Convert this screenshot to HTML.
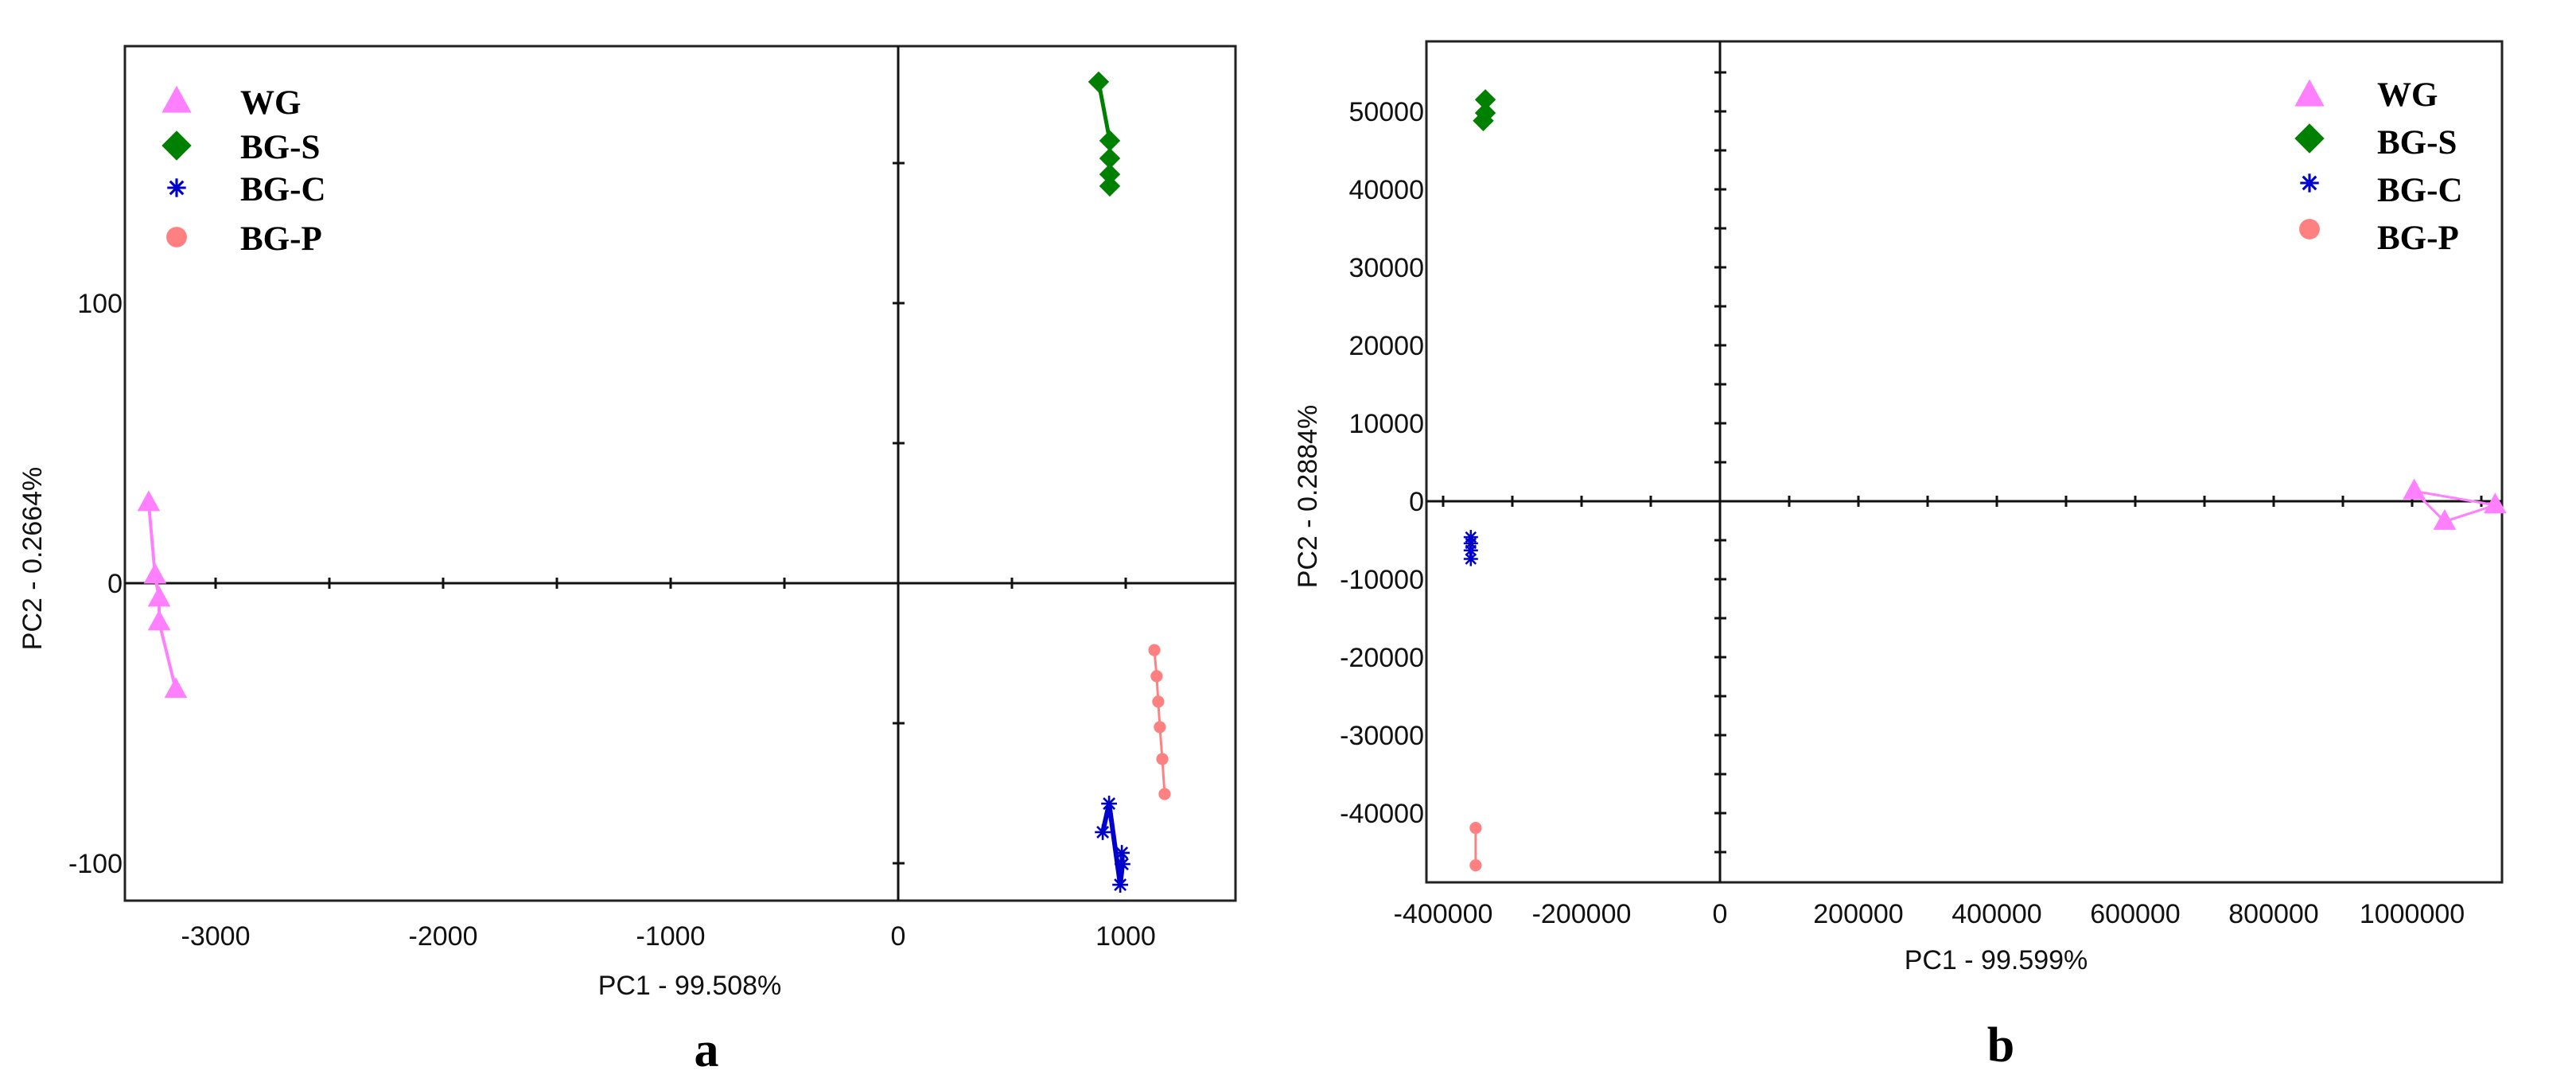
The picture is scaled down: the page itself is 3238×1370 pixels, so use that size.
<!DOCTYPE html>
<html><head><meta charset="utf-8">
<style>
html,body{margin:0;padding:0;background:#fff;}
svg{display:block;}
.tick{font-family:"Liberation Sans",Arial,sans-serif;font-size:34px;fill:#111;}
.atitle{font-family:"Liberation Sans",Arial,sans-serif;font-size:34px;fill:#111;}
.leg{font-family:"Liberation Serif","Times New Roman",serif;font-size:43px;font-weight:bold;fill:#000;}
.plabel{font-family:"Liberation Serif","Times New Roman",serif;font-size:62px;font-weight:bold;fill:#000;}
</style></head>
<body>
<svg id="chart" width="3238" height="1370" viewBox="0 0 3238 1370" xmlns="http://www.w3.org/2000/svg">
<text class="plabel" x="888" y="1340" text-anchor="middle">a</text>
<text class="plabel" x="2515" y="1334" text-anchor="middle">b</text>
</svg>
<script>
// ---- Panel a data ----
const seriesNames = ["WG","BG-S","BG-C","BG-P"];
const aWG_x = [-3294,-3266,-3248,-3248,-3175];
const aWG_y = [28.7,2.8,-5.4,-13.9,-38];
const aBGS_x = [881,930,930,930,930];
const aBGS_y = [179,158,151.7,146,141.8];
const aBGC_x = [899,927,976,986,983];
const aBGC_y = [-88.9,-78.7,-107.7,-100.3,-96.3];
const aBGP_x = [1126,1136,1143,1150,1161,1171];
const aBGP_y = [-23.9,-33.2,-42.3,-51.4,-62.8,-75.3];
const aXTickLabels = [-3000,-2000,-1000,0,1000];
const aYTickLabels = [100,0,-100];
// ---- Panel b data ----
const bWG_x = [1003000,1120000,1047000,1003000];
const bWG_y = [1300,-500,-2600,1300];
const bBGS_x = [-339000,-339000,-342000];
const bBGS_y = [51500,49800,48800];
const bBGC_x = [-360000,-360000,-360000,-360000];
const bBGC_y = [-4600,-5400,-6300,-7400];
const bBGP_x = [-353000,-353000];
const bBGP_y = [-41900,-46700];
const bXTickLabels = [-400000,-200000,0,200000,400000,600000,800000,1000000];
const bYTickLabels = [50000,40000,30000,20000,10000,0,-10000,-20000,-30000,-40000];

const NS="http://www.w3.org/2000/svg";
const svg=document.getElementById('chart');
function mk(tag,attrs,parent){const e=document.createElementNS(NS,tag);for(const k in attrs)e.setAttribute(k,attrs[k]);(parent||svg).appendChild(e);return e;}
const colors={"WG":"#ff80ff","BG-S":"#008000","BG-C":"#0000cc","BG-P":"#ff8080"};

function marker(g,name,cx,cy,s){
  let e;
  if(name==="WG"){e=mk('polygon',{points:`${cx},${cy-s*0.6} ${cx-s*0.55},${cy+s*0.4} ${cx+s*0.55},${cy+s*0.4}`,fill:colors[name]},g);}
  else if(name==="BG-S"){e=mk('polygon',{points:`${cx},${cy-s*0.55} ${cx+s*0.55},${cy} ${cx},${cy+s*0.55} ${cx-s*0.55},${cy}`,fill:colors[name]},g);}
  else if(name==="BG-C"){
    e=mk('g',{stroke:colors[name],'stroke-width':Math.max(2.5,s*0.12)},g);
    const r=s*0.45;
    for(let k=0;k<4;k++){const a=k*Math.PI/4;mk('line',{x1:cx-r*Math.cos(a),y1:cy-r*Math.sin(a),x2:cx+r*Math.cos(a),y2:cy+r*Math.sin(a)},e);}
  } else {e=mk('circle',{cx:cx,cy:cy,r:s*0.38,fill:colors[name]},g);}
  return e;
}

function panel(cfg){
  const g=mk('g',{});
  
  
  const X=v=>cfg.x0+v*cfg.kx, Y=v=>cfg.y0-v*cfg.ky;
  const fr=mk('rect',{x:cfg.L,y:cfg.T,width:cfg.R-cfg.L,height:cfg.B-cfg.T,fill:'none',stroke:'#222','stroke-width':3},g);
  
  
  const xa=mk('line',{x1:cfg.L,x2:cfg.R,y1:Y(0),y2:Y(0),stroke:'#111','stroke-width':3},g);
  
  
  const ya=mk('line',{x1:X(0),x2:X(0),y1:cfg.T,y2:cfg.B,stroke:'#111','stroke-width':3},g);
  
  
  for(let v=cfg.xMinor0;v<=cfg.xMax;v+=cfg.xMinor){ if(Math.abs(v)<1e-9)continue;
    mk('line',{x1:X(v),x2:X(v),y1:Y(0)-7,y2:Y(0)+7,stroke:'#111','stroke-width':3},g);}
  for(let v=cfg.yMinor0;v<=cfg.yMax;v+=cfg.yMinor){ if(Math.abs(v)<1e-9)continue;
    mk('line',{x1:X(0)-7,x2:X(0)+8,y1:Y(v),y2:Y(v),stroke:'#111','stroke-width':3},g);}
  cfg.xt.forEach(v=>{const t=mk('text',{x:X(v),y:cfg.xLabY,'text-anchor':'middle',class:'tick'},g);t.textContent=v;
    
    });
  cfg.yt.forEach(v=>{const t=mk('text',{x:cfg.L-3,y:Y(v)+12,'text-anchor':'end',class:'tick'},g);t.textContent=v;
    
    });
  const xt=mk('text',{x:cfg.xTitle[0],y:cfg.xTitle[1],'text-anchor':'middle',class:'atitle'},g);xt.textContent=cfg.xTitleText;
  
  
  const yt=mk('text',{x:0,y:0,'text-anchor':'middle',class:'atitle',transform:`translate(${cfg.yTitle[0]},${cfg.yTitle[1]}) rotate(-90)`},g);yt.textContent=cfg.yTitleText;
  
  
  cfg.series.forEach(s=>{
    const sg=mk('g',{},g);
    
    
    const pts=s.xs.map((x,i)=>X(x)+','+Y(s.ys[i])).join(' ');
    mk('polyline',{points:pts,fill:'none',stroke:colors[s.name],'stroke-width':s.lw},sg);
    s.xs.forEach((x,i)=>{const m=marker(sg,s.name,X(x),Y(s.ys[i]),s.ms);
      
      });
  });
  seriesNames.forEach((n,i)=>{
    const lg=mk('g',{},g);
    
    
    const my=cfg.legY[i];
    marker(lg,n,cfg.legMX,my,n==="BG-C"?26:34);
    const t=mk('text',{x:cfg.legTX,y:cfg.legBase[i],class:'leg'},lg);t.textContent=n;
  });
}

panel({id:'panel-a',L:157,R:1553,T:58,B:1132,x0:1129,kx:0.286,y0:733,ky:3.52,
  xMinor0:-3000,xMinor:500,xMax:1400,yMinor0:-100,yMinor:50,yMax:190,
  xt:aXTickLabels,yt:aYTickLabels,xLabY:1188,
  xTitle:[867,1250],xTitleText:'PC1 - 99.508%',yTitle:[52,702],yTitleText:'PC2 - 0.2664%',
  series:[{name:'WG',xs:aWG_x,ys:aWG_y,lw:4,ms:26},{name:'BG-S',xs:aBGS_x,ys:aBGS_y,lw:5,ms:24},
          {name:'BG-C',xs:aBGC_x,ys:aBGC_y,lw:6,ms:22},{name:'BG-P',xs:aBGP_x,ys:aBGP_y,lw:3,ms:20}],
  legMX:222,legY:[128,183,236,298],legTX:302,legBase:[143,199,252,314]});

panel({id:'panel-b',L:1793,R:3145,T:52,B:1109,x0:2162,kx:0.000870,y0:630,ky:0.0098,
  xMinor0:-400000,xMinor:100000,xMax:1100000,yMinor0:-45000,yMinor:5000,yMax:58000,
  xt:bXTickLabels,yt:bYTickLabels,xLabY:1160,
  xTitle:[2509,1218],xTitleText:'PC1 - 99.599%',yTitle:[1655,624],yTitleText:'PC2 - 0.2884%',
  series:[{name:'WG',xs:bWG_x,ys:bWG_y,lw:3,ms:26},{name:'BG-S',xs:bBGS_x,ys:bBGS_y,lw:4,ms:24},
          {name:'BG-C',xs:bBGC_x,ys:bBGC_y,lw:4,ms:20},{name:'BG-P',xs:bBGP_x,ys:bBGP_y,lw:3,ms:20}],
  legMX:2903,legY:[120,174,230,288],legTX:2988,legBase:[133,193,253,313]});
</script>
</body></html>
